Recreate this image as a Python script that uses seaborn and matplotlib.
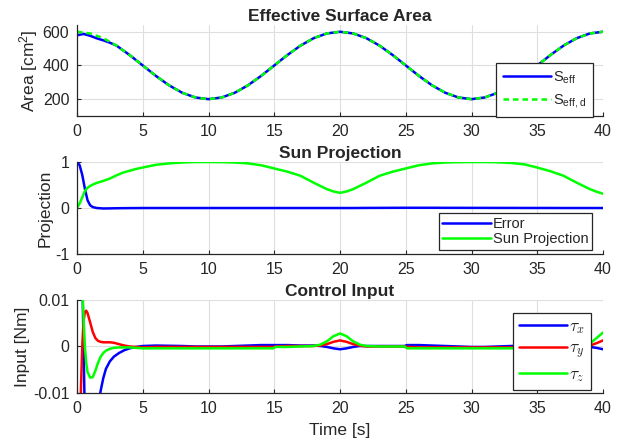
import numpy as np
import pandas as pd
import seaborn as sns
import matplotlib.pyplot as plt

# estilo
sns.set_style('whitegrid')
plt.rcParams['font.family'] = ['Liberation Sans', 'DejaVu Sans']
plt.rcParams['axes.unicode_minus'] = False

# --- datos ---
# Panel 1: area efectiva
t_area = [0, 1, 2, 3, 4, 5, 6, 7, 8, 9, 10, 11, 12, 13, 14, 15, 16, 17, 18, 19, 20,
          21, 22, 23, 24, 25, 26, 27, 28, 29, 30, 31, 32, 33, 34, 35, 36, 37, 38, 39, 40]
area_desired = [600, 590, 562, 518, 462, 400, 338, 282, 238, 210, 200, 210, 238, 282, 338, 400, 462, 518, 562, 590, 600,
                590, 562, 518, 462, 400, 338, 282, 238, 210, 200, 210, 238, 282, 338, 400, 462, 518, 562, 590, 600]
t_area_eff = [0, 0.5, 1, 1.5, 2, 2.5, 3, 4, 5, 6, 7, 8, 9, 10, 11, 12, 13, 14, 15, 16, 17, 18, 19, 20,
              21, 22, 23, 24, 25, 26, 27, 28, 29, 30, 31, 32, 33, 34, 35, 36, 37, 38, 39, 40]
area_eff = [579, 587, 576, 561, 549, 535, 518, 462, 400, 338, 282, 238, 210, 200, 210, 238, 282, 338, 400, 462, 518, 562, 590, 600,
            590, 562, 518, 462, 400, 338, 282, 238, 210, 200, 210, 238, 282, 338, 400, 462, 518, 562, 590, 600]

# Panel 2: proyeccion solar
t_proj = [0, 0.2, 0.4, 0.6, 0.8, 1.0, 1.2, 1.5, 2, 2.5, 3, 3.5, 4, 4.5, 5, 6, 7, 8, 9, 10,
          11, 12, 13, 14, 15, 16, 17, 18, 19, 19.5, 20, 20.5, 21, 22, 23, 24, 25, 26, 27, 28, 29, 30,
          31, 32, 33, 34, 35, 36, 37, 38, 39, 39.5, 40]
error = [1.0, 0.93, 0.72, 0.42, 0.17, 0.06, 0.02, 0.0, -0.01, -0.008, -0.005, -0.003, -0.002, -0.001, 0, 0, 0, 0, 0, 0,
         0, 0, 0, 0, 0, 0, 0, 0, 0, 0, 0, 0, 0, 0.002, 0.003, 0.004, 0.005, 0.005, 0.005, 0.004, 0.004, 0.003,
         0.003, 0.002, 0.002, 0.001, 0.001, 0.001, 0, 0, 0, 0, 0]
sun_proj = [0, 0.1, 0.23, 0.37, 0.44, 0.48, 0.51, 0.545, 0.59, 0.64, 0.71, 0.77, 0.81, 0.85, 0.88, 0.94, 0.97, 0.99, 1.0, 1.0,
            0.998, 0.99, 0.97, 0.93, 0.86, 0.79, 0.70, 0.55, 0.41, 0.36, 0.33, 0.36, 0.41, 0.55, 0.70, 0.79, 0.86, 0.93, 0.97, 0.99, 0.998, 1.0,
            1.0, 0.995, 0.98, 0.95, 0.88, 0.80, 0.70, 0.55, 0.41, 0.355, 0.31]

# Panel 3: entrada de control
t_tau = [0, 0.1, 0.2, 0.3, 0.4, 0.5, 0.6, 0.7, 0.8, 1.0, 1.2, 1.4, 1.6, 1.8, 2.0, 2.2, 2.5, 2.8, 3.2, 3.6, 4.0, 4.5,
         5, 6, 7, 8, 9, 10, 11, 12, 13, 14, 14.9, 15.1, 16, 17, 18, 18.5, 19, 19.5, 20, 20.5, 21, 21.5, 22,
         23, 24, 24.9, 25.1, 26, 27, 28, 29, 30, 31, 32, 33, 34, 35, 36, 37, 38, 38.5, 39, 39.5, 40]
tau_x = [0.05, 0.04, 0.03, 0.024, 0.016, 0.0, -0.016, -0.022, -0.026, -0.027, -0.024, -0.018, -0.013, -0.0095, -0.0068, -0.0048, -0.0032, -0.0022, -0.0014, -0.0008, -0.0004, -0.0001,
         0.0001, 0.0002, 0.00015, 0.0001, 0.0, 0.0, 0.0, 0.0001, 0.0002, 0.0003, 0.0003, 0.0003, 0.0003, 0.0002, 0.0002, 0.0001, -0.0001, -0.0004, -0.0006, -0.0004, -0.0001, 0.0001, 0.0001,
         0.0001, 0.0001, 0.0001, 0.0003, 0.0003, 0.0002, 0.0001, 0.0, -0.0001, -0.0001, 0.0, 0.0001, 0.0002, 0.0002, 0.0002, 0.0002, 0.0001, 0.0, -0.0001, -0.0003, -0.0006]
tau_y = [-0.05, -0.04, -0.025, -0.009, 0.0, 0.0055, 0.0074, 0.0077, 0.0072, 0.0052, 0.0031, 0.0018, 0.0012, 0.001, 0.0009, 0.0009, 0.0009, 0.0008, 0.0005, 0.0002, 0.0, -0.0001,
         -0.0002, -0.0001, -0.0001, -0.0001, -0.0001, -0.0001, -0.0001, -0.0001, -0.0001, -0.0001, -0.0001, 0.0, 0.0001, 0.0001, 0.0001, 0.0002, 0.0005, 0.001, 0.0013, 0.001, 0.0005, 0.0002, 0.0,
         0.0, 0.0, 0.0, -0.0001, -0.0002, -0.0002, -0.0002, -0.0002, -0.0002, -0.0002, -0.0002, -0.0002, -0.0002, -0.0002, -0.0002, -0.0002, -0.0001, 0.0, 0.0002, 0.0007, 0.0013]
tau_z = [0.06, 0.05, 0.035, 0.022, 0.013, 0.006, 0.0, -0.0035, -0.0055, -0.0067, -0.0066, -0.0052, -0.0035, -0.0022, -0.0014, -0.0009, -0.0005, -0.0003, -0.0002, -0.0002, -0.0002, -0.0003,
         -0.0004, -0.0004, -0.0004, -0.0004, -0.0004, -0.0004, -0.0004, -0.0004, -0.0004, -0.0004, -0.0004, -0.0001, -0.0001, 0.0, 0.0001, 0.0004, 0.0011, 0.0022, 0.0028, 0.0022, 0.0011, 0.0004, 0.0001,
         0.0, 0.0, 0.0, -0.0004, -0.0004, -0.0004, -0.0004, -0.0004, -0.0004, -0.0004, -0.0004, -0.0004, -0.0004, -0.0004, -0.0004, -0.0004, -0.0004, 0.0, 0.0006, 0.0018, 0.003]

x_ticks = [0, 5, 10, 15, 20, 25, 30, 35, 40]
area_ticks = [200, 400, 600]
proj_ticks = [-1, 0, 1]
tau_ticks = [-0.01, 0, 0.01]
tau_tick_labels = ['-0.01', '0', '0.01']

# --- figura ---
fig = plt.figure(figsize=(6.27, 4.45), dpi=100)
ax1 = fig.add_axes([0.1228, 0.7393, 0.839, 0.2045])
ax2 = fig.add_axes([0.1228, 0.4292, 0.839, 0.2067])
ax3 = fig.add_axes([0.1228, 0.1169, 0.839, 0.209])

lw = 1.8
FS_TICK = 11.5
FS_LAB = 12.5
FS_LEG = 10.5

sns.lineplot(x=t_area_eff, y=area_eff, ax=ax1, color=(0, 0, 1), lw=lw, label=r'$\mathregular{S_{eff}}$')
sns.lineplot(x=t_area, y=area_desired, ax=ax1, color=(0, 1, 0), lw=lw, linestyle=(0, (2.2, 1.6)),
             label=r'$\mathregular{S_{eff,d}}$')

sns.lineplot(x=t_proj, y=error, ax=ax2, color=(0, 0, 1), lw=lw, label='Error')
sns.lineplot(x=t_proj, y=sun_proj, ax=ax2, color=(0, 1, 0), lw=lw, label='Sun Projection')

sns.lineplot(x=t_tau, y=tau_x, ax=ax3, color=(0, 0, 1), lw=lw, label=r'$\tau_x$')
sns.lineplot(x=t_tau, y=tau_y, ax=ax3, color=(1, 0, 0), lw=lw, label=r'$\tau_y$')
sns.lineplot(x=t_tau, y=tau_z, ax=ax3, color=(0, 1, 0), lw=lw, label=r'$\tau_z$')

for ax in (ax1, ax2, ax3):
    ax.set_xlim(0, 40)
    ax.set_xticks(x_ticks)
    ax.grid(True, color='#dedede', lw=0.8)
    ax.set_axisbelow(True)
    for s in ('top', 'right'):
        ax.spines[s].set_visible(False)
    for s in ('left', 'bottom'):
        ax.spines[s].set_color('#262626')
        ax.spines[s].set_linewidth(0.9)
    ax.tick_params(direction='in', length=3, width=0.8, colors='#262626', labelsize=FS_TICK, pad=5.5,
                   bottom=True, left=True)

ax1.set_ylim(100, 640)
ax1.set_yticks(area_ticks)
ax2.set_ylim(-1, 1)
ax2.set_yticks(proj_ticks)
ax3.set_ylim(-0.01, 0.01)
ax3.set_yticks(tau_ticks)
ax3.set_yticklabels(tau_tick_labels)

ax1.set_title('Effective Surface Area', fontsize=FS_LAB, fontweight='bold', pad=3)
ax2.set_title('Sun Projection', fontsize=FS_LAB, fontweight='bold', pad=3)
ax3.set_title('Control Input', fontsize=FS_LAB, fontweight='bold', pad=3)
ax1.set_ylabel(r'Area [cm$\mathregular{^2}$]', fontsize=FS_LAB, labelpad=2)
ax2.set_ylabel('Projection', fontsize=FS_LAB, labelpad=2)
ax3.set_ylabel('Input [Nm]', fontsize=FS_LAB, labelpad=2)
ax3.set_xlabel('Time [s]', fontsize=FS_LAB, labelpad=5)

leg_kw = dict(fancybox=False, framealpha=1, edgecolor='#262626', borderaxespad=0)
l1 = ax1.legend(loc='lower right', bbox_to_anchor=(0.981, -0.01), fontsize=FS_LEG, handlelength=3.3,
                labelspacing=0.45, handletextpad=0.15, borderpad=0.45, **leg_kw)
l2 = ax2.legend(loc='lower right', bbox_to_anchor=(0.979, 0.043), fontsize=FS_LEG, handlelength=3.3,
                labelspacing=0.1, handletextpad=0.15, borderpad=0.25, **leg_kw)
l3 = ax3.legend(loc='upper right', bbox_to_anchor=(0.977, 0.86), prop={'size': 12.5, 'math_fontfamily': 'cm'},
                handlelength=2.75, labelspacing=0.3, handletextpad=0.1, borderpad=0.35, **leg_kw)
for leg in (l1, l2, l3):
    leg.get_frame().set_linewidth(0.9)

plt.savefig('out.png', dpi=100)
